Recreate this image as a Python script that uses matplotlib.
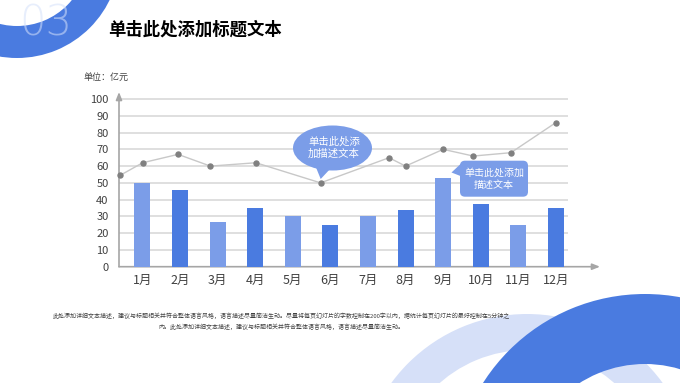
import matplotlib
matplotlib.use("Agg")
import matplotlib.pyplot as plt
from matplotlib.patches import Wedge, Ellipse, Polygon, FancyBboxPatch

plt.rcParams['font.family'] = ['Noto Sans CJK SC', 'DejaVu Sans']

# ---- data ----
months = ["1月", "2月", "3月", "4月", "5月", "6月", "7月", "8月", "9月", "10月", "11月", "12月"]
bar_values = [50, 45.5, 26.5, 35, 30, 25, 30, 34, 53, 37.5, 25, 35]
line_x = [-0.59, 0.01, 0.95, 1.81, 3.02, 4.74, 6.56, 7.0, 8.0, 8.8, 9.8, 11.0]
line_y = [54.5, 62, 67, 60, 62, 50, 65, 60, 70, 66, 68, 86]
y_ticks = [0, 10, 20, 30, 40, 50, 60, 70, 80, 90, 100]

title = "单击此处添加标题文本"
unit_label = "单位：亿元"
bubble1_text = ["单击此处添", "加描述文本"]
bubble2_text = ["单击此处添加", "描述文本"]
footer_lines = [
    "此处添加详细文本描述，建议与标题相关并符合整体语言风格，语言描述尽量简洁生动。尽量将每页幻灯片的字数控制在200字以内，据统计每页幻灯片的最好控制在5分钟之",
    "内。此处添加详细文本描述，建议与标题相关并符合整体语言风格，语言描述尽量简洁生动。",
]

DARK = '#4a7be0'
LIGHT = '#7b9de8'
PALE = '#d6e0f8'
TXT = '#404040'

W, H = 680, 383
fig = plt.figure(figsize=(W / 100, H / 100), dpi=100)

# ---- background decorations (pixel coordinates) ----
bg = fig.add_axes([0, 0, 1, 1], zorder=0)
bg.set_xlim(0, W)
bg.set_ylim(H, 0)
bg.axis('off')
bg.add_patch(Wedge((17, -45), 103, 0, 360, width=32, color=DARK, lw=0))
bg.add_patch(Wedge((527, 482), 168, 0, 360, width=36, color=PALE, lw=0))
bg.add_patch(Wedge((645, 486), 192, 0, 360, width=70, color=DARK, lw=0))
bg.text(46, 23, "03", fontsize=30, color='#d4e0fa', alpha=0.55, ha='center', va='center',
        family=['DejaVu Sans'], fontweight='light')
bg.text(108, 30, title, fontsize=12.5, fontweight='bold', color='black', ha='left', va='center')
bg.text(83, 77, unit_label, fontsize=6.5, fontweight='medium', color=TXT, ha='left', va='center')
bg.text(281, 316, footer_lines[0], fontsize=4.3, fontweight='medium', color=TXT, ha='center', va='center')
bg.text(281, 326.7, footer_lines[1], fontsize=4.3, fontweight='medium', color=TXT, ha='center', va='center')

# ---- chart ----
x0, x1 = 119, 600
y0, y1 = 266.7, 92
ax = fig.add_axes([x0 / W, (H - y0) / H, (x1 - x0) / W, (y0 - y1) / H], zorder=2)
ax.set_facecolor('none')
ax.set_xlim(-0.62, 12.17)
ax.set_ylim(0, 104.2)
for s in ax.spines.values():
    s.set_visible(False)

xs = list(range(len(months)))
colors = [LIGHT if i % 2 == 0 else DARK for i in xs]
ax.bar(xs, bar_values, width=0.425, color=colors, zorder=3)

for v in y_ticks[1:]:
    ax.plot([-0.62, 11.32], [v, v], color='#d9d9d9', lw=1.2, zorder=1, solid_capstyle='butt')

ax.plot(line_x, line_y, color='#c8c8c8', lw=1, marker='o', ms=3.6,
        mfc='#808080', mec='#808080', zorder=4, clip_on=False)

ax.set_xticks(xs, months)
ax.set_yticks(y_ticks, [str(v) for v in y_ticks])
ax.tick_params(axis='x', length=0, pad=5, labelsize=9, labelcolor=TXT)
ax.tick_params(axis='y', length=0, pad=7.5, labelsize=8, labelcolor=TXT)

arrow = dict(arrowstyle='-|>,head_length=0.45,head_width=0.18', color='#a6a6a6', lw=1.2,
             shrinkA=0, shrinkB=0)
ax.annotate('', xy=(1, 0), xytext=(0, 0), xycoords='axes fraction', arrowprops=arrow, zorder=2)
ax.annotate('', xy=(0, 1), xytext=(0, 0), xycoords='axes fraction', arrowprops=arrow, zorder=2)

# ---- callouts (pixel coordinates) ----
ov = fig.add_axes([0, 0, 1, 1], zorder=5)
ov.set_facecolor('none')
ov.set_xlim(0, W)
ov.set_ylim(H, 0)
ov.axis('off')

ov.add_patch(Ellipse((332.5, 148), 79, 45, color=LIGHT, lw=0))
ov.add_patch(Polygon([(315, 165), (331, 168), (320.7, 179)], closed=True, color=LIGHT, lw=0))
ov.text(334, 141.7, bubble1_text[0], fontsize=7.5, color='white', ha='center', va='center')
ov.text(334, 153.3, bubble1_text[1], fontsize=7.5, color='white', ha='center', va='center')

ov.add_patch(FancyBboxPatch((460, 160.7), 68, 36, boxstyle='round,pad=0,rounding_size=5',
                            color=LIGHT, lw=0))
ov.add_patch(Polygon([(463, 161.7), (451.5, 172.5), (463, 177)], closed=True, color=LIGHT, lw=0))
ov.text(494, 172.3, bubble2_text[0], fontsize=7.2, color='white', ha='center', va='center')
ov.text(494, 185, bubble2_text[1], fontsize=7.2, color='white', ha='center', va='center')

fig.savefig('out.png', dpi=100)
